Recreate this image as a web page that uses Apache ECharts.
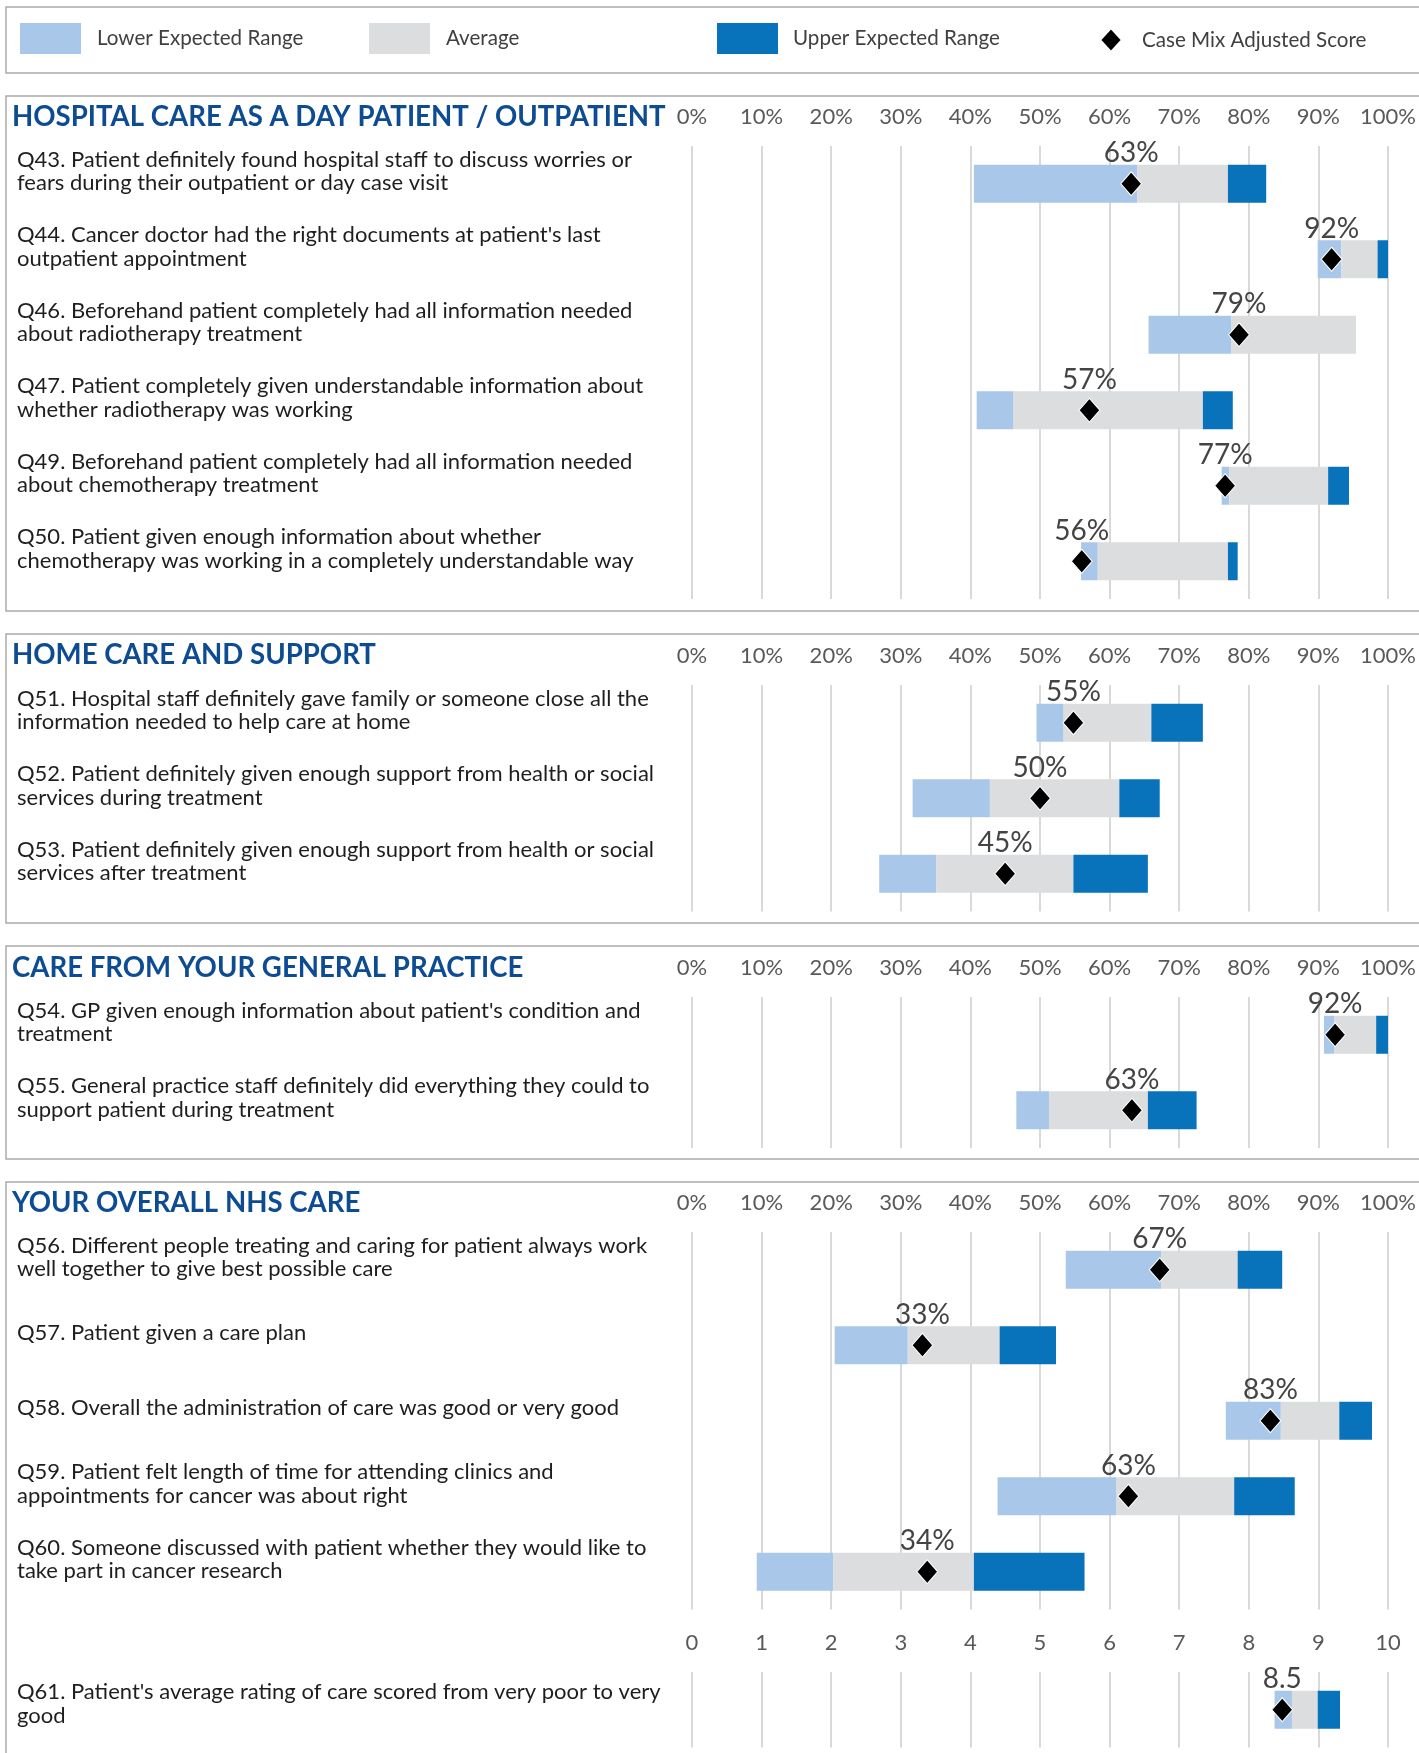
<!DOCTYPE html>
<html><head><meta charset="utf-8">
<script src="https://cdn.jsdelivr.net/npm/echarts@6/dist/echarts.min.js"></script>
<style>html,body{margin:0;padding:0;background:#fff}#c{width:1419px;height:1753px}</style>
</head><body><div id="c"></div><script>
// ---------- DATA ----------
const sectionTitles = ['HOSPITAL CARE AS A DAY PATIENT / OUTPATIENT', 'HOME CARE AND SUPPORT', 'CARE FROM YOUR GENERAL PRACTICE', 'YOUR OVERALL NHS CARE'];
const legendNames = ['Lower Expected Range', 'Average', 'Upper Expected Range', 'Case Mix Adjusted Score'];
const pctTicks = ['0%', '10%', '20%', '30%', '40%', '50%', '60%', '70%', '80%', '90%', '100%'];
const scoreTicks = ['0', '1', '2', '3', '4', '5', '6', '7', '8', '9', '10'];

const s1Questions = [
  "Q43. Patient definitely found hospital staff to discuss worries or\nfears during their outpatient or day case visit",
  "Q44. Cancer doctor had the right documents at patient's last\noutpatient appointment",
  "Q46. Beforehand patient completely had all information needed\nabout radiotherapy treatment",
  "Q47. Patient completely given understandable information about\nwhether radiotherapy was working",
  "Q49. Beforehand patient completely had all information needed\nabout chemotherapy treatment",
  "Q50. Patient given enough information about whether\nchemotherapy was working in a completely understandable way"
];
const s1LowerStart   = [40.5, 89.9, 65.6, 40.9, 76.1, 55.9];
const s1AverageStart = [64.0, 93.3, 77.5, 46.2, 77.2, 58.3];
const s1UpperStart   = [77.0, 98.5, 95.4, 73.4, 91.4, 77.0];
const s1UpperEnd     = [82.5, 100,  95.4, 77.7, 94.4, 78.4];
const s1Score        = [63.1, 91.9, 78.6, 57.1, 76.6, 56.0];

const s2Questions = [
  "Q51. Hospital staff definitely gave family or someone close all the\ninformation needed to help care at home",
  "Q52. Patient definitely given enough support from health or social\nservices during treatment",
  "Q53. Patient definitely given enough support from health or social\nservices after treatment"
];
const s2LowerStart   = [49.5, 31.7, 26.9];
const s2AverageStart = [53.4, 42.8, 35.1];
const s2UpperStart   = [66.0, 61.4, 54.8];
const s2UpperEnd     = [73.4, 67.2, 65.5];
const s2Score        = [54.8, 50.0, 45.0];

const s3Questions = [
  "Q54. GP given enough information about patient's condition and\ntreatment",
  "Q55. General practice staff definitely did everything they could to\nsupport patient during treatment"
];
const s3LowerStart   = [90.8, 46.6];
const s3AverageStart = [92.3, 51.3];
const s3UpperStart   = [98.3, 65.5];
const s3UpperEnd     = [100,  72.5];
const s3Score        = [92.4, 63.2];

const s4Questions = [
  "Q56. Different people treating and caring for patient always work\nwell together to give best possible care",
  "Q57. Patient given a care plan",
  "Q58. Overall the administration of care was good or very good",
  "Q59. Patient felt length of time for attending clinics and\nappointments for cancer was about right",
  "Q60. Someone discussed with patient whether they would like to\ntake part in cancer research"
];
const s4LowerStart   = [53.7, 20.5, 76.7, 43.9, 9.3];
const s4AverageStart = [67.4, 31.0, 84.6, 61.0, 20.3];
const s4UpperStart   = [78.4, 44.2, 93.0, 77.9, 40.5];
const s4UpperEnd     = [84.8, 52.3, 97.7, 86.6, 56.4];
const s4Score        = [67.2, 33.1, 83.1, 62.7, 33.8];

const s5Questions = ["Q61. Patient's average rating of care scored from very poor to very\ngood"];
const s5LowerStart   = [8.37];
const s5AverageStart = [8.62];
const s5UpperStart   = [8.99];
const s5UpperEnd     = [9.31];
const s5Score        = [8.48];

// ---------- STYLE / LAYOUT ----------
const COL_LOWER = '#a9c7e9', COL_AVG = '#dcdddf', COL_UPPER = '#0873bb', COL_TITLE = '#0d4c92';
const FONT = 'Lato';
const panels = [
  {q: s1Questions, lo: s1LowerStart, av: s1AverageStart, up: s1UpperStart, end: s1UpperEnd, sc: s1Score, top: 146, max: 100, ticks: pctTicks, pct: true, shift: 25},
  {q: s2Questions, lo: s2LowerStart, av: s2AverageStart, up: s2UpperStart, end: s2UpperEnd, sc: s2Score, top: 685, max: 100, ticks: pctTicks, pct: true, shift: 25},
  {q: s3Questions, lo: s3LowerStart, av: s3AverageStart, up: s3UpperStart, end: s3UpperEnd, sc: s3Score, top: 997, max: 100, ticks: pctTicks, pct: true, shift: 25},
  {q: s4Questions, lo: s4LowerStart, av: s4AverageStart, up: s4UpperStart, end: s4UpperEnd, sc: s4Score, top: 1232, max: 100, ticks: pctTicks, pct: true, shift: 25},
  {q: s5Questions, lo: s5LowerStart, av: s5AverageStart, up: s5UpperStart, end: s5UpperEnd, sc: s5Score, top: 1672, max: 10, ticks: scoreTicks, pct: false, shift: 12}
];
const ROW = 75.5, GRID_LEFT = 692, GRID_W = 696;
const titleCenters = [118, 656, 969, 1204];
const boxes = [[7, 73], [96, 611], [634, 923], [946, 1159], [1182, 1800]];

const grid = [], xAxis = [], yAxis = [], series = [];
panels.forEach((p, i) => {
  grid.push({left: GRID_LEFT, top: p.top, width: GRID_W, height: ROW * p.q.length, containLabel: false});
  xAxis.push({
    gridIndex: i, type: 'value', position: 'top', min: 0, max: p.max, interval: p.max / 10,
    axisLine: {show: false}, axisTick: {show: false},
    splitLine: {show: true, lineStyle: {color: '#d9d9d9', width: 2}},
    axisLabel: {margin: 29, verticalAlign: 'middle', fontFamily: FONT, fontSize: 22, color: '#595959',
      formatter: v => p.ticks[Math.round(v / (p.max / 10))]}
  });
  yAxis.push({
    gridIndex: i, type: 'category', inverse: true, data: p.q,
    axisLine: {show: false}, axisTick: {show: false}, splitLine: {show: false},
    axisLabel: {align: 'left', margin: GRID_LEFT - 17, verticalAlign: 'middle',
      // question lines, plus an invisible spacer line that lifts the text block above the bar centre
      formatter: v => v.split('\n').map(l => '{t|' + l + '}').join('\n') + '\n{g| }',
      rich: {
        t: {fontFamily: FONT, fontSize: 22, lineHeight: 23.5, color: '#1e1e1e'},
        g: {fontSize: 1, lineHeight: p.shift}
      }}
  });
  const stack = 'st' + i;
  series.push({name: 'base', type: 'bar', xAxisIndex: i, yAxisIndex: i, stack, barWidth: 38, silent: true,
    itemStyle: {color: 'rgba(0,0,0,0)'}, data: p.lo});
  series.push({name: legendNames[0], type: 'bar', xAxisIndex: i, yAxisIndex: i, stack, barWidth: 38,
    itemStyle: {color: COL_LOWER}, data: p.av.map((v, k) => +(v - p.lo[k]).toFixed(3))});
  series.push({name: legendNames[1], type: 'bar', xAxisIndex: i, yAxisIndex: i, stack, barWidth: 38,
    itemStyle: {color: COL_AVG}, data: p.up.map((v, k) => +(v - p.av[k]).toFixed(3))});
  series.push({name: legendNames[2], type: 'bar', xAxisIndex: i, yAxisIndex: i, stack, barWidth: 38,
    itemStyle: {color: COL_UPPER}, data: p.end.map((v, k) => +(v - p.up[k]).toFixed(3))});
  series.push({name: legendNames[3], type: 'scatter', xAxisIndex: i, yAxisIndex: i, z: 5,
    symbol: 'diamond', symbolSize: [21, 24],
    itemStyle: {color: '#000000', borderColor: '#ffffff', borderWidth: 1, opacity: 1},
    label: {show: true, position: 'top', distance: 4, fontFamily: FONT, fontSize: 28, color: '#444444',
      formatter: d => p.pct ? Math.round(d.value[0]) + '%' : d.value[0].toFixed(1)},
    data: p.sc.map((v, k) => [v, k])});
});

const lineStyle = {stroke: '#ababab', lineWidth: 1.5};
const graphics = [];
boxes.forEach(([t, b]) => {
  graphics.push({type: 'polyline', silent: true, shape: {points: [[1419, t], [6, t], [6, b], [1419, b]]}, style: Object.assign({fill: null}, lineStyle)});
});

const legendText = pad => ({fontFamily: FONT, fontSize: 20.6, color: '#404040', padding: [5, 0, 0, pad]});
const legendBase = {orient: 'horizontal', top: 23, itemHeight: 31, itemWidth: 61, selectedMode: false, padding: 0};
const option = {
  animation: false,
  textStyle: {fontFamily: FONT},
  title: sectionTitles.map((t, i) => ({text: t, left: 12, top: titleCenters[i] - 15, padding: 0,
    textStyle: {fontFamily: FONT, fontWeight: 'bold', fontSize: 27.6, color: COL_TITLE}})),
  legend: [
    Object.assign({}, legendBase, {left: 20, icon: 'rect', data: [legendNames[0]], textStyle: legendText(11)}),
    Object.assign({}, legendBase, {left: 369, icon: 'rect', data: [legendNames[1]], textStyle: legendText(11)}),
    Object.assign({}, legendBase, {left: 717, icon: 'rect', data: [legendNames[2]], textStyle: legendText(10)}),
    Object.assign({}, legendBase, {left: 1099, top: 27, itemWidth: 22, itemHeight: 24, icon: 'diamond', data: [legendNames[3]], textStyle: legendText(15)})
  ],
  grid, xAxis, yAxis, series,
  graphic: graphics
};
const chart = echarts.init(document.getElementById('c'), null, {renderer: 'canvas'});
chart.setOption(option);
</script></body></html>
